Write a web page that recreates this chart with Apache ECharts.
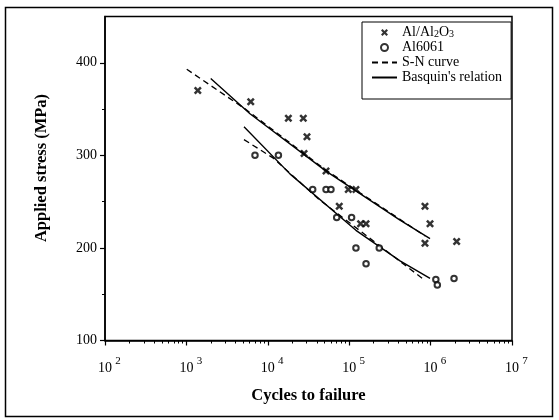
<!DOCTYPE html>
<html><head><meta charset="utf-8">
<script src="https://cdn.jsdelivr.net/npm/echarts@6/dist/echarts.min.js"></script>
<style>html,body{margin:0;padding:0;background:#fff}#c{width:559px;height:420px}</style>
</head><body><div id="c"></div>
<script>
// Axis ranges and ticks
const xMin = 100, xMax = 10000000;
const yMin = 100, yMax = 450;
const yMajorTicks = [100, 200, 300, 400];
const yMinorTicks = [150, 250, 350];
const xDecades = [100, 1000, 10000, 100000, 1000000, 10000000];
const xMinorMultipliers = [2, 3, 4, 5, 6, 7, 8, 9];

// Al/Al2O3 composite (x markers)
const compCycles = [1380, 6170, 17900, 27300, 30300, 27900, 51900, 97500, 121000, 75500, 138000, 161000, 853000, 984000, 853000, 2090000];
const compStress = [370, 358, 340, 340, 320, 302, 283, 263, 263, 245, 226, 226, 245, 226, 205, 207];

// Al6061 (open circles)
const alloyCycles = [6960, 13500, 35600, 51900, 59700, 70200, 107000, 121000, 234000, 161000, 1160000, 1210000, 1940000];
const alloyStress = [300, 300, 263, 263, 263, 233, 233, 200, 200, 183, 166, 160, 167];

// Fitted curves
const snCompCycles = [1010, 5300, 51900, 850000];
const snCompStress = [393, 350, 284, 213];
const bqCompCycles = [1990, 6040, 51900, 421000, 984000];
const bqCompStress = [383, 345, 283, 230, 210];
const snAlloyCycles = [5100, 11700, 41700, 850000];
const snAlloyStress = [317, 297, 253, 165];
const bqAlloyCycles = [5100, 18700, 121000, 421000, 984000];
const bqAlloyStress = [331, 280, 219, 186, 167];

const xMinorTicks = [];
xDecades.slice(0, -1).forEach(d => xMinorMultipliers.forEach(m => xMinorTicks.push(d * m)));

const zip = (a, b) => a.map((v, i) => [v, b[i]]);
const FONT = '"Liberation Serif", "DejaVu Serif", serif';
const crossPath = 'path://M0,2.2 L2.2,0 L5,2.8 L7.8,0 L10,2.2 L7.2,5 L10,7.8 L7.8,10 L5,7.2 L2.2,10 L0,7.8 L2.8,5 Z';

const G = {left: 105, right: 47, top: 16.5, bottom: 79.5};

const chart = echarts.init(document.getElementById('c'), null, {renderer: 'canvas'});
chart.setOption({
  backgroundColor: '#fff',
  animation: false,
  graphic: [{
    type: 'rect', left: 3, top: 5, silent: true,
    shape: {width: 547, height: 409},
    style: {fill: 'none', stroke: '#000', lineWidth: 1.5}
  }],
  grid: [
    Object.assign({show: true, borderColor: '#000', borderWidth: 1.5, backgroundColor: 'transparent'}, G),
    Object.assign({show: false}, G)
  ],
  legend: {
    orient: 'vertical', left: 362, top: 22,
    padding: [3, 9, 14, 9],
    itemWidth: 25, itemHeight: 7, itemGap: 0,
    borderColor: '#000', borderWidth: 1, backgroundColor: '#fff',
    data: [
      {name: 'Al/Al2O3', icon: crossPath},
      {name: 'Al6061', icon: 'emptyCircle', itemStyle: {borderWidth: 1.2}},
      {name: 'S-N curve', itemStyle: {opacity: 0}},
      {name: "Basquin's relation", itemStyle: {opacity: 0}}
    ],
    formatter: function (name) {
      if (name === 'Al/Al2O3') return '{n|Al/Al}{s|2}{n|O}{s|3}';
      return '{n|' + name + '}';
    },
    textStyle: {
      color: '#000', fontFamily: FONT, fontSize: 14, lineHeight: 15,
      rich: {
        n: {fontFamily: FONT, fontSize: 14, color: '#000'},
        s: {fontFamily: FONT, fontSize: 10, color: '#000', padding: [4, 0, 0, 0]}
      }
    }
  },
  xAxis: [{
    type: 'log', logBase: 10, min: xMin, max: xMax, gridIndex: 0,
    name: 'Cycles to failure', nameLocation: 'middle', nameGap: 47,
    nameTextStyle: {fontFamily: FONT, fontWeight: 'bold', fontSize: 16.5, color: '#000'},
    axisLine: {lineStyle: {color: '#000', width: 1.5}},
    axisTick: {inside: false, length: 5, customValues: xDecades, lineStyle: {color: '#000', width: 1.2}},
    splitLine: {show: false},
    axisLabel: {
      customValues: xDecades, margin: 15, color: '#000',
      formatter: function (v) { return '{sp|}{b|10}{e|' + Math.round(Math.log10(v)) + '}'; },
      rich: {
        sp: {width: 9},
        b: {fontFamily: FONT, fontSize: 14, color: '#000'},
        e: {fontFamily: FONT, fontSize: 11, color: '#000', padding: [0, 0, 14, 3], width: 6}
      }
    }
  }, {
    type: 'log', logBase: 10, min: xMin, max: xMax, gridIndex: 1,
    axisLine: {show: false},
    axisTick: {length: 3, customValues: xMinorTicks, lineStyle: {color: '#000', width: 1}},
    axisLabel: {show: false}, splitLine: {show: false}
  }],
  yAxis: [{
    type: 'value', min: yMin, max: yMax, interval: 100, gridIndex: 0,
    name: 'Applied stress (MPa)', nameLocation: 'middle', nameGap: 55, nameRotate: 90,
    nameTextStyle: {fontFamily: FONT, fontWeight: 'bold', fontSize: 16.5, color: '#000', padding: [0, 0, 0, 21]},
    axisLine: {show: true, lineStyle: {color: '#000', width: 1.5}},
    axisTick: {show: true, length: 5, customValues: yMajorTicks, lineStyle: {color: '#000', width: 1.2}},
    splitLine: {show: false},
    axisLabel: {customValues: yMajorTicks, margin: 8, color: '#000', fontFamily: FONT, fontSize: 14}
  }, {
    type: 'value', min: yMin, max: yMax, gridIndex: 1,
    axisLine: {show: false},
    axisTick: {show: true, length: 3, customValues: yMinorTicks, lineStyle: {color: '#000', width: 1}},
    axisLabel: {show: false}, splitLine: {show: false}
  }],
  series: [
    {name: 'Al/Al2O3', type: 'scatter', xAxisIndex: 0, yAxisIndex: 0, symbol: crossPath, symbolSize: 8,
      itemStyle: {color: '#000'}, data: zip(compCycles, compStress), z: 5},
    {name: 'Al6061', type: 'scatter', xAxisIndex: 0, yAxisIndex: 0, symbol: 'emptyCircle', symbolSize: 5.5,
      itemStyle: {color: '#000', borderColor: '#000', borderWidth: 1.2}, data: zip(alloyCycles, alloyStress), z: 5},
    {name: 'S-N curve', type: 'line', xAxisIndex: 0, yAxisIndex: 0, symbol: 'none', showSymbol: false,
      lineStyle: {color: '#000', width: 1.3, type: [6, 4]}, itemStyle: {color: '#000'}, data: zip(snCompCycles, snCompStress)},
    {name: 'S-N curve', type: 'line', xAxisIndex: 0, yAxisIndex: 0, symbol: 'none', showSymbol: false,
      lineStyle: {color: '#000', width: 1.3, type: [6, 4]}, itemStyle: {color: '#000'}, data: zip(snAlloyCycles, snAlloyStress)},
    {name: "Basquin's relation", type: 'line', xAxisIndex: 0, yAxisIndex: 0, symbol: 'none', showSymbol: false,
      lineStyle: {color: '#000', width: 1.4}, itemStyle: {color: '#000'}, data: zip(bqCompCycles, bqCompStress)},
    {name: "Basquin's relation", type: 'line', xAxisIndex: 0, yAxisIndex: 0, symbol: 'none', showSymbol: false,
      lineStyle: {color: '#000', width: 1.4}, itemStyle: {color: '#000'}, data: zip(bqAlloyCycles, bqAlloyStress)}
  ]
});
</script></body></html>
